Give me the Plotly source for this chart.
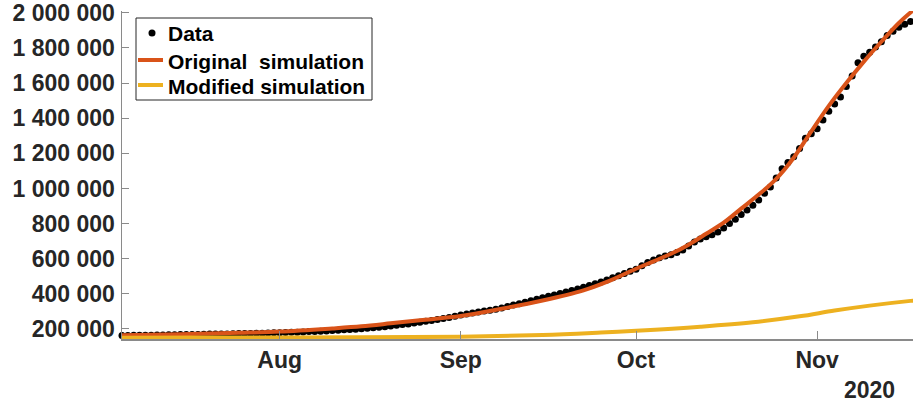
import pandas as pd
import plotly.graph_objects as go

# ---- data (thousands of cases) ----
data_start = "2020-07-05"
data_values_k = [
    # Jul 5 - Jul 31
    163, 163, 164, 164, 165, 165, 166, 166, 167, 167, 168, 168, 169, 169, 170,
    171, 171, 172, 172, 173, 174, 174, 175, 176, 176, 177, 178,
    # Aug 1 - Aug 31
    179, 180, 181, 182, 183, 185, 186, 187, 189, 191, 193, 195, 197, 199, 202,
    204, 207, 210, 213, 217, 221, 225, 229, 234, 239, 244, 249, 254, 260, 266, 272,
    # Sep 1 - Sep 30
    280, 285, 291, 297, 302, 307, 313, 320, 328, 336, 344, 352, 361, 369, 378,
    386, 394, 402, 410, 419, 428, 437, 447, 457, 468, 479, 491, 503, 516, 528,
    # Oct 1 - Oct 31
    540, 560, 578, 592, 605, 615, 623, 635, 650, 672, 695, 712, 725, 737, 752,
    775, 800, 825, 852, 877, 905, 934, 972, 1008, 1059, 1112, 1148, 1180, 1228,
    1285, 1312,
    # Nov 1 - Nov 17
    1340, 1390, 1440, 1480, 1520, 1580, 1640, 1716, 1752, 1775, 1805, 1835,
    1870, 1895, 1918, 1935, 1950,
]

orig_dates = ["2020-07-05", "2020-07-15", "2020-07-25", "2020-08-01", "2020-08-10",
              "2020-08-15", "2020-08-20", "2020-08-25", "2020-09-01", "2020-09-08",
              "2020-09-15", "2020-09-22", "2020-09-26", "2020-10-01", "2020-10-04",
              "2020-10-07", "2020-10-10", "2020-10-13", "2020-10-16", "2020-10-19",
              "2020-10-22", "2020-10-25", "2020-10-28", "2020-10-31", "2020-11-03",
              "2020-11-06", "2020-11-09", "2020-11-12", "2020-11-15", "2020-11-18"]
orig_values_k = [164, 170, 178, 185, 203, 215, 232, 250, 274, 315, 362, 420, 468,
                 543, 585, 628, 680, 742, 805, 885, 965, 1055, 1175, 1325, 1470,
                 1600, 1722, 1835, 1942, 2030]

mod_dates = ["2020-07-05", "2020-07-20", "2020-08-01", "2020-08-15", "2020-09-01",
             "2020-09-15", "2020-09-25", "2020-10-01", "2020-10-12", "2020-10-21",
             "2020-10-29", "2020-11-04", "2020-11-10", "2020-11-17", "2020-11-18"]
mod_values_k = [150, 151, 152, 153, 156, 166, 180, 190, 213, 238, 272, 305, 333,
                360, 363]

y_tick_vals = [200000, 400000, 600000, 800000, 1000000, 1200000, 1400000,
               1600000, 1800000, 2000000]
y_tick_text = ["200 000", "400 000", "600 000", "800 000", "1 000 000",
               "1 200 000", "1 400 000", "1 600 000", "1 800 000", "2 000 000"]
x_tick_vals = ["2020-08-01", "2020-09-01", "2020-10-01", "2020-11-01"]
x_tick_text = ["Aug", "Sep", "Oct", "Nov"]
legend_names = ["Data", "Original  simulation", "Modified simulation"]

data_dates = pd.date_range(data_start, periods=len(data_values_k), freq="D")

FONT = "Liberation Sans, Arial, sans-serif"
TXT = "#262626"
AX = "#8a8a8a"
C_ORIG = "#D95319"
C_MOD = "#EDB120"

PLOT_L, PLOT_R, PLOT_T, PLOT_B = 122, 913, 11, 339  # plot area in window pixels
W, H = 913, 405


def px(x):
    return (x - PLOT_L) / (PLOT_R - PLOT_L)


def py(y):
    return (PLOT_B - y) / (PLOT_B - PLOT_T)


fig = go.Figure()
fig.add_trace(go.Scatter(
    x=data_dates, y=[v * 1000 for v in data_values_k], mode="markers",
    name=legend_names[0], marker=dict(color="black", size=7), cliponaxis=False))
fig.add_trace(go.Scatter(
    x=orig_dates, y=[v * 1000 for v in orig_values_k], mode="lines",
    name=legend_names[1], line=dict(color=C_ORIG, width=4, shape="spline")))
fig.add_trace(go.Scatter(
    x=mod_dates, y=[v * 1000 for v in mod_values_k], mode="lines",
    name=legend_names[2], line=dict(color=C_MOD, width=4, shape="spline")))

# legend box (MATLAB style)
rows_y = [33, 60, 85]
shapes = [
    dict(type="rect", xref="paper", yref="paper", x0=px(136), x1=px(372),
         y0=py(100), y1=py(18), fillcolor="white", line=dict(color=TXT, width=1),
         layer="above"),
    dict(type="circle", xref="paper", yref="paper", xsizemode="pixel",
         ysizemode="pixel", xanchor=px(152), yanchor=py(rows_y[0]),
         x0=-3.5, x1=3.5, y0=-3.5, y1=3.5, fillcolor="black",
         line=dict(color="black", width=0), layer="above"),
    dict(type="line", xref="paper", yref="paper", x0=px(138), x1=px(163),
         y0=py(rows_y[1]), y1=py(rows_y[1]), line=dict(color=C_ORIG, width=4),
         layer="above"),
    dict(type="line", xref="paper", yref="paper", x0=px(138), x1=px(163),
         y0=py(rows_y[2]), y1=py(rows_y[2]), line=dict(color=C_MOD, width=4),
         layer="above"),
]
annotations = [
    dict(text="<b>%s</b>" % name.replace("  ", "&nbsp; "), xref="paper", yref="paper",
         x=px(166), y=py(ry + 1), xanchor="left", yanchor="middle",
         showarrow=False, font=dict(family=FONT, size=21, color="black"))
    for name, ry in zip(legend_names, rows_y)
]
annotations.append(dict(
    text="<b>2020</b>", xref="paper", yref="paper",
    x=px(869), y=py(390), xanchor="center", yanchor="middle",
    showarrow=False, font=dict(family=FONT, size=23, color=TXT)))

fig.update_layout(
    width=W, height=H,
    margin=dict(l=PLOT_L, r=W - PLOT_R, t=PLOT_T, b=H - PLOT_B, autoexpand=False),
    paper_bgcolor="white", plot_bgcolor="white",
    font=dict(family=FONT, size=23, color=TXT),
    showlegend=False,
    shapes=shapes,
    annotations=annotations,
)
fig.update_xaxes(
    type="date", range=["2020-07-05", "2020-11-17 10:00"], automargin=False,
    tickmode="array", tickvals=x_tick_vals, ticktext=x_tick_text,
    ticks="inside", ticklen=8, tickcolor=AX, tickwidth=1,
    showline=True, linecolor=AX, linewidth=1.5, showgrid=False, zeroline=False,
    tickfont=dict(family=FONT, size=23, color=TXT, weight="bold"),
    ticklabeloverflow="allow",
)
fig.update_yaxes(
    range=[143000, 2010000], automargin=False,
    tickmode="array", tickvals=y_tick_vals, ticktext=y_tick_text,
    ticks="inside", ticklen=7, tickcolor=AX, tickwidth=1,
    showline=True, linecolor=AX, linewidth=1.5, showgrid=False, zeroline=False,
    tickfont=dict(family=FONT, size=23, color=TXT, weight="bold"),
    ticklabelstandoff=1, ticklabeloverflow="allow",
)
fig.write_html(
    "out.html",
    config={"displayModeBar": False, "staticPlot": True},
    post_script="document.body.style.margin='0';document.body.style.overflow='hidden';",
)
